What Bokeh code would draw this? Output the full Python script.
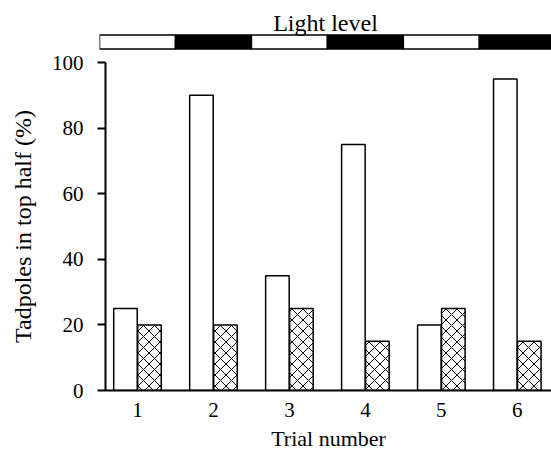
import numpy as np
from bokeh.plotting import figure
from bokeh.layouts import column
from bokeh.models import FixedTicker, Range1d, ColumnDataSource
from bokeh.core.properties import value
from bokeh.embed import file_html
from bokeh.resources import INLINE

# ---- data ----
trials = [1, 2, 3, 4, 5, 6]
tick_labels = ["1", "2", "3", "4", "5", "6"]
open_bars = [25, 90, 35, 75, 20, 95]       # white bars
hatched_bars = [20, 20, 25, 15, 25, 15]    # cross-hatched bars
light_level = ["light", "dark", "light", "dark", "light", "dark"]
y_ticks = [0, 20, 40, 60, 80, 100]

FONT = "Liberation Serif"
BAR_W = 0.31
OFF = 0.158
X_END = 6.45
TOP_H = 50

tx = np.array(trials, dtype=float)

# ---- top strip: light level ----
top = figure(width=551, height=TOP_H, output_backend="svg", toolbar_location=None,
             x_range=Range1d(0.5, X_END), y_range=Range1d(0, TOP_H),
             min_border_left=99, min_border_right=0, min_border_top=0,
             min_border_bottom=0, x_axis_location=None, y_axis_location=None)
top.frame_align = False
top.outline_line_color = None
top.xgrid.visible = False
top.ygrid.visible = False
colors = ["white" if l == "light" else "black" for l in light_level]
top.quad(left=tx - 0.5, right=tx + 0.5, bottom=1.5, top=15.5,
         fill_color=colors, line_color="black", line_width=1.5)
top.text(x=[(0.5 + X_END) / 2], y=[27.5], text=["Light level"],
         text_font=value(FONT), text_font_size="24px", text_align="center",
         text_baseline="alphabetic", text_color="black")

# ---- main chart ----
p = figure(width=551, height=459 - TOP_H, output_backend="svg", toolbar_location=None,
           x_range=Range1d(0.579, X_END), y_range=Range1d(0, 100),
           min_border_left=105, min_border_right=0, min_border_top=62 - TOP_H,
           min_border_bottom=69)
p.frame_align = False
p.outline_line_color = None
p.xgrid.visible = False
p.ygrid.visible = False

src = ColumnDataSource(dict(xw=tx - OFF, xh=tx + OFF, w=open_bars, h=hatched_bars))
p.vbar(x="xw", top="w", bottom=0, width=BAR_W, source=src,
       fill_color="white", line_color="black", line_width=1.5)
p.vbar(x="xh", top="h", bottom=0, width=BAR_W, source=src,
       fill_color="white", line_color="black", line_width=1.5,
       hatch_pattern="diagonal_cross", hatch_color="black",
       hatch_scale=11, hatch_weight=1)

ya = p.yaxis[0]
ya.ticker = FixedTicker(ticks=y_ticks)
ya.axis_line_width = 2
ya.axis_line_color = "black"
ya.major_tick_out = 8
ya.major_tick_in = 0
ya.major_tick_line_width = 2
ya.minor_tick_line_color = None
ya.major_label_text_font = FONT
ya.major_label_text_font_size = "21px"
ya.major_label_text_color = "black"
ya.major_label_standoff = 14
ya.axis_label = "Tadpoles in top half (%)"
ya.axis_label_text_font = FONT
ya.axis_label_text_font_size = "24px"
ya.axis_label_text_font_style = "normal"
ya.axis_label_text_color = "black"
ya.axis_label_standoff = 13

xa = p.xaxis[0]
xa.ticker = FixedTicker(ticks=trials)
xa.major_label_overrides = {t: s for t, s in zip(trials, tick_labels)}
xa.axis_line_width = 2
xa.axis_line_color = "black"
xa.major_tick_line_color = None
xa.minor_tick_line_color = None
xa.major_label_text_font = FONT
xa.major_label_text_font_size = "21px"
xa.major_label_text_color = "black"
xa.major_label_standoff = 6
xa.axis_label = "Trial number"
xa.axis_label_text_font = FONT
xa.axis_label_text_font_size = "22px"
xa.axis_label_text_font_style = "normal"
xa.axis_label_text_color = "black"
xa.axis_label_standoff = 6

layout = column(top, p, spacing=0)
open("out.html", "w").write(file_html(layout, INLINE))
